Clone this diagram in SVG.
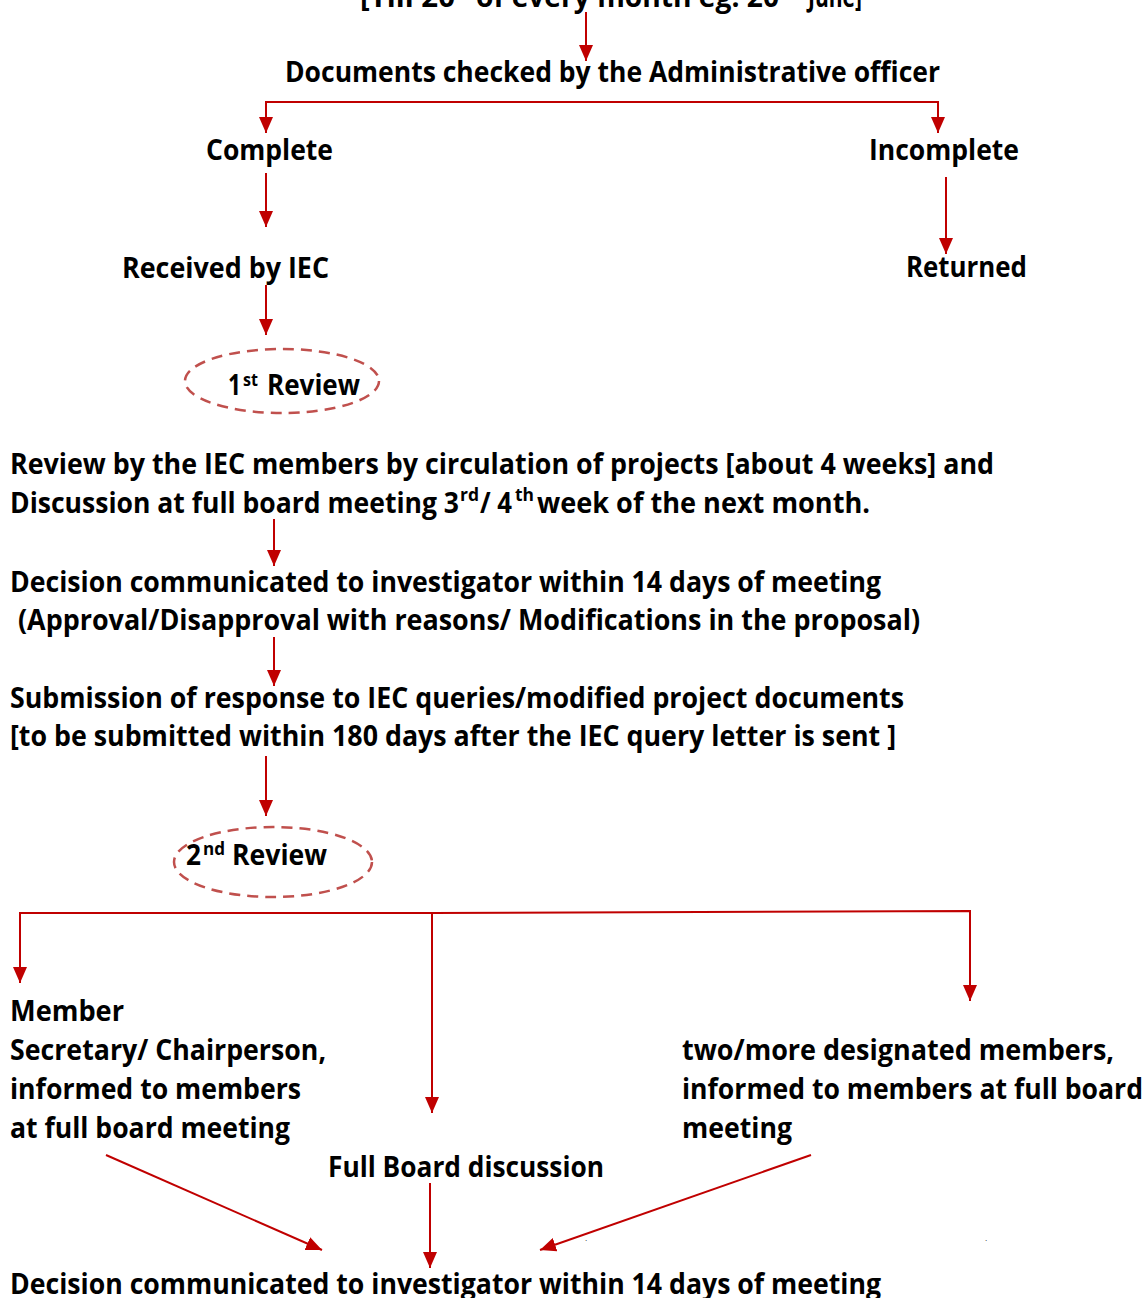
<svg xmlns="http://www.w3.org/2000/svg" width="1147" height="1298" viewBox="0 0 1147 1298">
<style>
  .t { font-family: "Open Sans", "Liberation Sans", sans-serif; font-weight: 700; font-size: 28px; fill: #000; }
  .s { font-family: "Open Sans", "Liberation Sans", sans-serif; font-weight: 700; font-size: 18px; fill: #000; }
  .c { fill: none; stroke: #C00000; stroke-width: 2; marker-end: url(#ah); }
  .e { fill: none; stroke: #C0504D; stroke-width: 2.5; stroke-dasharray: 11 7; }
</style>
<defs>
  <marker id="ah" markerUnits="userSpaceOnUse" viewBox="0 0 16 14" markerWidth="16" markerHeight="14" refX="16" refY="7" orient="auto">
    <path d="M0,0 L16,7 L0,14 z" fill="#C00000"/>
  </marker>
</defs>
<rect width="1147" height="1298" fill="#fff"/>

<g id="connectors">
  <path class="c" d="M586,12 V61"/>
  <path class="c" d="M600,102 H266 V133"/>
  <path class="c" d="M600,102 H938 V133"/>
  <path class="c" d="M266,173 V227"/>
  <path class="c" d="M946,177 V254"/>
  <path class="c" d="M266,285 V335"/>
  <path class="c" d="M274,519 V566"/>
  <path class="c" d="M274,637 V686"/>
  <path class="c" d="M266,756 V816"/>
  <path class="c" d="M432,913 H20 V983"/>
  <path class="c" d="M432,913 L970,911 V1001"/>
  <path class="c" d="M432,913 V1113"/>
  <path class="c" d="M106,1155 L322,1250"/>
  <path class="c" d="M430,1183 V1268"/>
  <path class="c" d="M811,1155 L540,1250"/>
</g>

<g id="n-submit">
  <text class="t" x="360" y="7" textLength="95" lengthAdjust="spacingAndGlyphs">[Till 20</text>
  <text class="s" x="456" y="-6" textLength="18" lengthAdjust="spacingAndGlyphs">th</text>
  <text class="t" x="476" y="7" textLength="303" lengthAdjust="spacingAndGlyphs">of every month eg. 20</text>
  <text class="s" x="781" y="-6" textLength="18" lengthAdjust="spacingAndGlyphs">th</text>
  <text class="t" x="808" y="7" textLength="54" lengthAdjust="spacingAndGlyphs">June]</text>
</g>
<g id="n-checked">
  <text class="t" x="285" y="82" textLength="655" lengthAdjust="spacingAndGlyphs">Documents checked by the Administrative officer</text>
</g>
<g id="n-complete">
  <text class="t" x="206" y="160" textLength="127" lengthAdjust="spacingAndGlyphs">Complete</text>
</g>
<g id="n-incomplete">
  <text class="t" x="869" y="160" textLength="150" lengthAdjust="spacingAndGlyphs">Incomplete</text>
</g>
<g id="n-received">
  <text class="t" x="122" y="278" textLength="207" lengthAdjust="spacingAndGlyphs">Received by IEC</text>
</g>
<g id="n-returned">
  <text class="t" x="906" y="277" textLength="121" lengthAdjust="spacingAndGlyphs">Returned</text>
</g>
<g id="n-review1">
  <ellipse class="e" cx="282" cy="381" rx="97" ry="32"/>
  <text class="t" x="228" y="395" textLength="13" lengthAdjust="spacingAndGlyphs">1</text>
  <text class="s" x="243" y="386" textLength="15" lengthAdjust="spacingAndGlyphs">st</text>
  <text class="t" x="267" y="395" textLength="93" lengthAdjust="spacingAndGlyphs">Review</text>
</g>
<g id="n-circulation">
  <text class="t" x="10" y="474" textLength="984" lengthAdjust="spacingAndGlyphs">Review by the IEC members by circulation of projects [about 4 weeks] and</text>
  <text class="t" x="10" y="513" textLength="449" lengthAdjust="spacingAndGlyphs">Discussion at full board meeting 3</text>
  <text class="s" x="460" y="501" textLength="19" lengthAdjust="spacingAndGlyphs">rd</text>
  <text class="t" x="480" y="513" textLength="32" lengthAdjust="spacingAndGlyphs">/ 4</text>
  <text class="s" x="515" y="501" textLength="19" lengthAdjust="spacingAndGlyphs">th</text>
  <text class="t" x="537" y="513" textLength="333" lengthAdjust="spacingAndGlyphs">week of the next month.</text>
</g>
<g id="n-decision1">
  <text class="t" x="10" y="592" textLength="871" lengthAdjust="spacingAndGlyphs">Decision communicated to investigator within 14 days of meeting</text>
  <text class="t" x="18" y="630" textLength="902" lengthAdjust="spacingAndGlyphs">(Approval/Disapproval with reasons/ Modifications in the proposal)</text>
</g>
<g id="n-response">
  <text class="t" x="10" y="708" textLength="894" lengthAdjust="spacingAndGlyphs">Submission of response to IEC queries/modified project documents</text>
  <text class="t" x="10" y="746" textLength="886" lengthAdjust="spacingAndGlyphs">[to be submitted within 180 days after the IEC query letter is sent ]</text>
</g>
<g id="n-review2">
  <ellipse class="e" cx="273" cy="862" rx="99" ry="35"/>
  <text class="t" x="186" y="865" textLength="15" lengthAdjust="spacingAndGlyphs">2</text>
  <text class="s" x="203" y="855" textLength="22" lengthAdjust="spacingAndGlyphs">nd</text>
  <text class="t" x="232" y="865" textLength="95" lengthAdjust="spacingAndGlyphs">Review</text>
</g>
<g id="n-member">
  <text class="t" x="10" y="1021" textLength="114" lengthAdjust="spacingAndGlyphs">Member</text>
  <text class="t" x="10" y="1060" textLength="316" lengthAdjust="spacingAndGlyphs">Secretary/ Chairperson,</text>
  <text class="t" x="10" y="1099" textLength="291" lengthAdjust="spacingAndGlyphs">informed to members</text>
  <text class="t" x="10" y="1138" textLength="280" lengthAdjust="spacingAndGlyphs">at full board meeting</text>
</g>
<g id="n-fullboard">
  <text class="t" x="328" y="1177" textLength="276" lengthAdjust="spacingAndGlyphs">Full Board discussion</text>
</g>
<g id="n-designated">
  <text class="t" x="682" y="1060" textLength="432" lengthAdjust="spacingAndGlyphs">two/more designated members,</text>
  <text class="t" x="682" y="1099" textLength="461" lengthAdjust="spacingAndGlyphs">informed to members at full board</text>
  <text class="t" x="682" y="1138" textLength="110" lengthAdjust="spacingAndGlyphs">meeting</text>
</g>
<g id="n-dots">
  <text x="585" y="1241" font-family="Liberation Sans, sans-serif" font-size="8" fill="#000">.</text>
  <text x="985" y="1241" font-family="Liberation Sans, sans-serif" font-size="8" fill="#000">.</text>
</g>
<g id="n-decision2">
  <text class="t" x="10" y="1294" textLength="871" lengthAdjust="spacingAndGlyphs">Decision communicated to investigator within 14 days of meeting</text>
</g>
</svg>
